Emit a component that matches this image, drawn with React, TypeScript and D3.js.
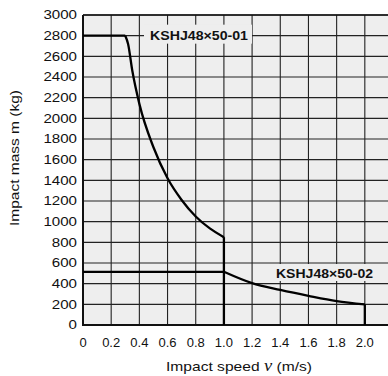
import React from "react";
import * as d3 from "d3";

const speedTicks = [0, 0.2, 0.4, 0.6, 0.8, 1.0, 1.2, 1.4, 1.6, 1.8, 2.0];
const speedTickLabels = ["0", "0.2", "0.4", "0.6", "0.8", "1.0", "1.2", "1.4", "1.6", "1.8", "2.0"];
const massTicks = [0, 200, 400, 600, 800, 1000, 1200, 1400, 1600, 1800, 2000, 2200, 2400, 2600, 2800, 3000];

// KSHJ48×50-01
const s01FlatV = [0, 0.3];
const s01FlatM = [2800, 2800];
const s01CurveV = [0.3, 0.32, 0.35, 0.4, 0.5, 0.6, 0.7, 0.8, 0.9, 1.0];
const s01CurveM = [2800, 2720, 2460, 2140, 1720, 1420, 1210, 1050, 935, 850];
const s01DropV = [1.0, 1.0];
const s01DropM = [850, 0];

// KSHJ48×50-02
const s02FlatV = [0, 1.0];
const s02FlatM = [515, 515];
const s02CurveV = [1.0, 1.2, 1.4, 1.6, 1.8, 2.0];
const s02CurveM = [515, 405, 340, 283, 232, 200];
const s02DropV = [2.0, 2.0];
const s02DropM = [200, 0];

const seriesLabels = ["KSHJ48×50-01", "KSHJ48×50-02"];

const W = 388;
const H = 376;
const FONT = "'Liberation Sans', Arial, Helvetica, sans-serif";

export default function App() {
  const x = d3.scaleLinear().domain([0, 2.2]).range([83, 393]);
  const y = d3.scaleLinear().domain([0, 3000]).range([325, 15]);

  const lin = d3
    .line<[number, number]>()
    .x((d) => x(d[0]))
    .y((d) => y(d[1]));
  const smooth = d3
    .line<[number, number]>()
    .x((d) => x(d[0]))
    .y((d) => y(d[1]))
    .curve(d3.curveMonotoneX);
  const zip = (a: number[], b: number[]) => a.map((v, i) => [v, b[i]] as [number, number]);

  const paths = [
    lin(zip(s01FlatV, s01FlatM)),
    smooth(zip(s01CurveV, s01CurveM)),
    lin(zip(s01DropV, s01DropM)),
    lin(zip(s02FlatV, s02FlatM)),
    smooth(zip(s02CurveV, s02CurveM)),
    lin(zip(s02DropV, s02DropM)),
  ];

  const bg = "#eeeeee";
  const gridX = [...speedTicks, 2.2];

  return (
    <svg
      width={W}
      height={H}
      style={{ position: "absolute", left: 0, top: 0, background: "#fff" }}
      fontFamily={FONT}
    >
      <rect x={x(0)} y={y(3000)} width={x(2.2) - x(0)} height={y(0) - y(3000)} fill={bg} />
      {gridX.map((v, i) => (
        <line key={"gx" + i} x1={x(v)} x2={x(v)} y1={y(0)} y2={y(3000)} stroke="#222" strokeWidth={1.1} />
      ))}
      {massTicks.map((v, i) => (
        <line key={"gy" + i} x1={x(0)} x2={x(2.2)} y1={y(v)} y2={y(v)} stroke="#222" strokeWidth={1.1} />
      ))}
      {/* label backgrounds */}
      <rect x={144} y={y(2800) - 11} width={108} height={19} fill={bg} />
      <rect x={271} y={y(600) + 1} width={108} height={17} fill={bg} />
      <text
        x={199}
        y={y(2800) + 4.5}
        textAnchor="middle"
        fontSize={12}
        fontWeight="bold"
        textLength={98}
        lengthAdjust="spacingAndGlyphs"
        fill="#111"
      >
        {seriesLabels[0]}
      </text>
      <text
        x={324.5}
        y={y(500) + 4.5}
        textAnchor="middle"
        fontSize={12}
        fontWeight="bold"
        textLength={97}
        lengthAdjust="spacingAndGlyphs"
        fill="#111"
      >
        {seriesLabels[1]}
      </text>
      {/* frame */}
      <line x1={x(0)} x2={x(2.2)} y1={y(3000)} y2={y(3000)} stroke="#111" strokeWidth={1.5} />
      <line x1={x(0)} x2={x(0)} y1={y(0) + 1} y2={y(3000)} stroke="#111" strokeWidth={2} />
      <line x1={x(0)} x2={x(2.2)} y1={y(0)} y2={y(0)} stroke="#111" strokeWidth={2} />
      {/* data */}
      {paths.map((d, i) => (
        <path key={"p" + i} d={d || ""} fill="none" stroke="#000" strokeWidth={2.3} strokeLinejoin="round" />
      ))}
      {/* y tick labels */}
      {massTicks.map((v, i) => {
        const s = String(v);
        return (
          <text
            key={"yl" + i}
            x={77}
            y={y(v) + 4.4}
            textAnchor="end"
            fontSize={12.5}
            textLength={s.length * 8.4}
            lengthAdjust="spacingAndGlyphs"
            fill="#111"
          >
            {s}
          </text>
        );
      })}
      {/* x tick labels */}
      {speedTicks.map((v, i) => (
        <text key={"xl" + i} x={x(v)} y={346.5} textAnchor="middle" fontSize={13} fill="#111">
          {speedTickLabels[i]}
        </text>
      ))}
      {/* axis titles */}
      <text x={239} y={371} textAnchor="middle" fontSize={13.5} fill="#111" textLength={146} lengthAdjust="spacingAndGlyphs">
        Impact speed{" "}
        <tspan fontFamily="'Liberation Serif', 'DejaVu Serif', serif" fontStyle="italic" fontSize={16}>
          ν
        </tspan>{" "}
        (m/s)
      </text>
      <text
        transform={`translate(19,158) rotate(-90)`}
        textAnchor="middle"
        fontSize={13.5}
        fill="#111"
        textLength={136}
        lengthAdjust="spacingAndGlyphs"
      >
        Impact mass m (kg)
      </text>
    </svg>
  );
}
